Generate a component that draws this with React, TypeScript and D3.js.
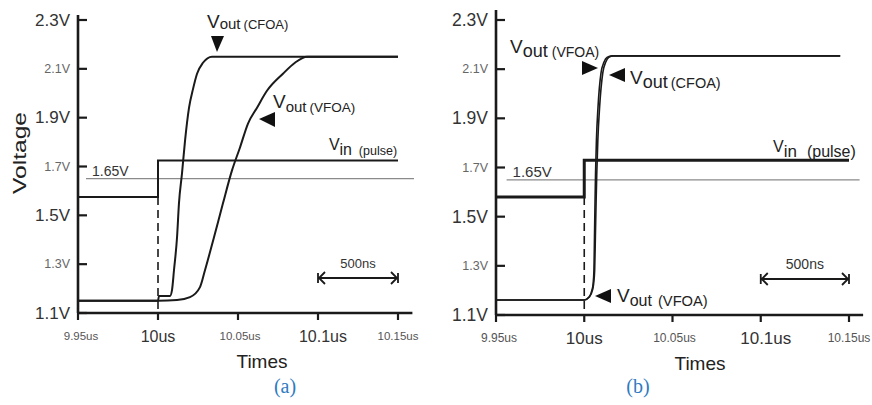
import React from 'react';
import * as d3 from 'd3';

// time in ns relative to 10us, voltage in V
const timeTicks = [-50, 0, 50, 100, 150];
const timeLabels = ['9.95us', '10us', '10.05us', '10.1us', '10.15us'];
const voltTicks = [1.1, 1.3, 1.5, 1.7, 1.9, 2.1, 2.3];
const voltLabels = ['1.1V', '1.3V', '1.5V', '1.7V', '1.9V', '2.1V', '2.3V'];
const refLevel = 1.65;
const scaleBar = [100, 150];

// panel (a)
const vinA: [number, number][] = [[-50, 1.575], [0, 1.575], [0, 1.725], [150, 1.725]];
const cfoaA: [number, number][] = [
  [-50, 1.15], [0, 1.15], [0.6, 1.17], [7.5, 1.17], [8.75, 1.194], [10, 1.276],
  [11.9, 1.41], [13.1, 1.549], [15, 1.672], [16.9, 1.806], [19.4, 1.941],
  [21.9, 2.018], [24.4, 2.08], [28.1, 2.125], [33.75, 2.15], [150, 2.15],
];
const vfoaA: [number, number][] = [
  [-50, 1.15], [0, 1.15], [11.9, 1.153], [20, 1.165], [26.25, 1.206], [29.4, 1.276],
  [35, 1.41], [40.6, 1.549], [46.25, 1.684], [51.25, 1.778], [56.25, 1.876],
  [61.9, 1.941], [68.1, 2.01], [78.1, 2.08], [85.6, 2.125], [93.1, 2.15], [150, 2.15],
];

// panel (b)
const vinB: [number, number][] = [[-50, 1.58], [0, 1.58], [0, 1.73], [150, 1.73]];
const vfoaB: [number, number][] = [
  [-50, 1.161], [0, 1.161], [2.7, 1.173], [4.4, 1.202], [5.0, 1.226], [5.5, 1.283],
  [5.8, 1.417], [6.1, 1.556], [6.4, 1.678], [6.9, 1.812], [7.8, 1.946],
  [9.5, 2.085], [11.2, 2.129], [12.9, 2.148], [15.7, 2.154], [145, 2.154],
];
const cfoaB: [number, number][] = [
  [-50, 1.161], [0, 1.161], [2.9, 1.173], [4.7, 1.202], [5.3, 1.226], [5.9, 1.283],
  [6.3, 1.417], [6.7, 1.556], [7.1, 1.678], [7.7, 1.812], [8.7, 1.946],
  [10.5, 2.085], [12.2, 2.129], [13.9, 2.148], [16.5, 2.154], [145, 2.154],
];

const FONT = '"Liberation Sans", Arial, sans-serif';
const INK = '#1a1a1a';
const LABEL_DX: Record<string, number> = { '9.95us': 3, '10.05us': 2, '10.1us': 5 };

interface PanelProps {
  x0: number; x1: number; y0: number; y1: number;
  axisTop: number; axisEnd: number;
  vin: [number, number][];
  outs: [number, number][][];
  vinWidth: number; outWidth: number;
  refExtent: [number, number];
  refLabelSize: number;
  barY: number; barTextSize: number;
  xSmall: number; xBig: number;
  ySmall: number; yBig: number;
}

function Panel(p: PanelProps) {
  const x = d3.scaleLinear().domain([-50, 150]).range([p.x0, p.x1]);
  const y = d3.scaleLinear().domain([1.1, 2.3]).range([p.y0, p.y1]);
  const straight = d3.line<[number, number]>().x(d => x(d[0])).y(d => y(d[1]));
  const smooth = d3.line<[number, number]>().x(d => x(d[0])).y(d => y(d[1])).curve(d3.curveMonotoneX);
  const base = y(1.1);
  const bx0 = x(scaleBar[0]);
  const bx1 = x(scaleBar[1]);

  return (
    <g fontFamily={FONT}>
      {/* reference level */}
      <line x1={x(p.refExtent[0])} x2={x(p.refExtent[1])} y1={y(refLevel)} y2={y(refLevel)}
        stroke="#8a8a8a" strokeWidth={1.3} />
      <text x={x(p.refExtent[0]) + 6} y={y(refLevel) - 3} fontSize={p.refLabelSize} fill="#333">1.65V</text>

      {/* step marker */}
      <line x1={x(0)} x2={x(0)} y1={y(p.vin[0][1])} y2={base} stroke={INK}
        strokeWidth={1.6} strokeDasharray="8 5" />

      <path d={straight(p.vin) || ''} fill="none" stroke={INK} strokeWidth={p.vinWidth} />
      {p.outs.map((o, i) => (
        <path key={i} d={smooth(o) || ''} fill="none" stroke={INK} strokeWidth={p.outWidth}
          strokeLinejoin="round" />
      ))}

      {/* axes */}
      <line x1={p.x0} x2={p.x0} y1={p.axisTop} y2={base} stroke={INK} strokeWidth={2.6} />
      <line x1={p.x0} x2={x(p.axisEnd)} y1={base} y2={base} stroke={INK} strokeWidth={2.6} />
      {voltTicks.map((v, i) => (
        <g key={v}>
          <line x1={p.x0} x2={p.x0 + 9} y1={y(v)} y2={y(v)} stroke={INK} strokeWidth={2.2} />
          <text x={p.x0 - 8} y={y(v)} textAnchor="end" dominantBaseline="central"
            fontSize={i % 2 === 0 ? p.yBig : p.ySmall} fill={i % 2 === 0 ? '#333' : '#666'}>
            {voltLabels[i]}
          </text>
        </g>
      ))}
      {timeTicks.map((t, i) => (
        <g key={t}>
          <line x1={x(t)} x2={x(t)} y1={base} y2={base + 7} stroke={INK} strokeWidth={2.2} />
          <text x={x(t) + (LABEL_DX[timeLabels[i]] || 0)} y={base + (i % 2 === 1 ? 29 : 27)}
            textAnchor="middle" fontSize={i % 2 === 1 ? p.xBig : p.xSmall}
            fill={i % 2 === 1 ? '#333' : '#555'}>
            {timeLabels[i]}
          </text>
        </g>
      ))}

      {/* 500ns scale bar */}
      <text x={(bx0 + bx1) / 2} y={p.barY - 10} textAnchor="middle" fontSize={p.barTextSize} fill="#333">500ns</text>
      <line x1={bx0} x2={bx1} y1={p.barY} y2={p.barY} stroke={INK} strokeWidth={1.8} />
      <path d={`M${bx0 + 7},${p.barY - 6}L${bx0 + 1},${p.barY}L${bx0 + 7},${p.barY + 6}M${bx0},${p.barY - 5}V${p.barY + 5}`}
        fill="none" stroke={INK} strokeWidth={1.8} />
      <path d={`M${bx1 - 7},${p.barY - 6}L${bx1 - 1},${p.barY}L${bx1 - 7},${p.barY + 6}M${bx1},${p.barY - 5}V${p.barY + 5}`}
        fill="none" stroke={INK} strokeWidth={1.8} />
    </g>
  );
}

interface LabelProps {
  x: number; y: number; main: string; sub: string; tail: string;
  mainSize: number; subSize: number; tailSize: number; subDy: number; tailDx: number;
}

function SubLabel(l: LabelProps) {
  return (
    <text x={l.x} y={l.y} fontFamily={FONT} fill="#222">
      <tspan fontSize={l.mainSize}>{l.main}</tspan>
      <tspan fontSize={l.subSize} dy={l.subDy}>{l.sub}</tspan>
      <tspan fontSize={l.tailSize} dx={l.tailDx}>{l.tail}</tspan>
    </text>
  );
}

export default function App() {
  return (
    <svg width={872} height={405} style={{ position: 'absolute', left: 0, top: 0, background: '#fff' }}>
      <Panel x0={78} x1={398} y0={313} y1={20} axisTop={15} axisEnd={159}
        vin={vinA} outs={[cfoaA, vfoaA]} vinWidth={2} outWidth={2}
        refExtent={[-45, 160]} refLabelSize={14} barY={278} barTextSize={13}
        xSmall={11.5} xBig={16} ySmall={12.5} yBig={17} />
      <Panel x0={496} x1={849} y0={315} y1={20} axisTop={10} axisEnd={158}
        vin={vinB} outs={[vfoaB, cfoaB]} vinWidth={3} outWidth={1.6}
        refExtent={[-44, 156]} refLabelSize={15} barY={279} barTextSize={14}
        xSmall={12} xBig={17} ySmall={12.5} yBig={17.5} />

      {/* panel (a) annotations */}
      <SubLabel x={207} y={28} main="V" sub="out" tail="(CFOA)" mainSize={19} subSize={15} tailSize={13} subDy={1} tailDx={3} />
      <polygon points="211,36 224,36 217,52" fill="#111" />
      <SubLabel x={273} y={108} main="V" sub="out" tail="(VFOA)" mainSize={19} subSize={15} tailSize={13.5} subDy={4} tailDx={3} />
      <polygon points="259,119 275,112 275,127" fill="#111" />
      <SubLabel x={329} y={150} main="V" sub="in" tail="(pulse)" mainSize={16} subSize={16} tailSize={12.5} subDy={5} tailDx={7} />

      {/* panel (b) annotations */}
      <SubLabel x={510} y={53} main="V" sub="out" tail="(VFOA)" mainSize={19} subSize={18} tailSize={14} subDy={4} tailDx={4} />
      <polygon points="582,61 598,68 582,75" fill="#111" />
      <polygon points="609,75 625,68 625,82" fill="#111" />
      <SubLabel x={630} y={84} main="V" sub="out" tail="(CFOA)" mainSize={19} subSize={18} tailSize={14.5} subDy={4} tailDx={3} />
      <SubLabel x={773} y={152} main="V" sub="in" tail="(pulse)" mainSize={16} subSize={17} tailSize={16} subDy={5} tailDx={10} />
      <polygon points="595,296 611,289 611,303" fill="#111" />
      <SubLabel x={617} y={302} main="V" sub="out" tail="(VFOA)" mainSize={19} subSize={16} tailSize={14.7} subDy={4} tailDx={6} />

      {/* axis titles */}
      <text transform="translate(26,153) rotate(-90)" textAnchor="middle" fontFamily={FONT}
        fontSize={18} fill="#222" textLength={82} lengthAdjust="spacingAndGlyphs">Voltage</text>
      <text x={262} y={368} textAnchor="middle" fontFamily={FONT} fontSize={19} fill="#222">Times</text>
      <text x={700} y={370} textAnchor="middle" fontFamily={FONT} fontSize={19} fill="#222">Times</text>

      {/* captions */}
      <text x={285} y={393} textAnchor="middle" fontFamily='"Liberation Serif", "Times New Roman", serif'
        fontSize={20} fill="#2f7bbf">(a)</text>
      <text x={638} y={393} textAnchor="middle" fontFamily='"Liberation Serif", "Times New Roman", serif'
        fontSize={20} fill="#2f7bbf">(b)</text>
    </svg>
  );
}
